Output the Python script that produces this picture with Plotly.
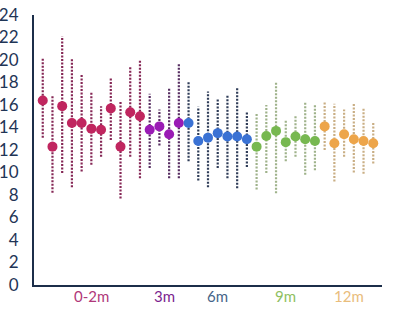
import plotly.graph_objects as go

# ---- data ----
groups = ["0-2m", "3m", "6m", "9m", "12m"]
group_sizes = [11, 4, 7, 7, 6]
means = [16.4, 12.3, 15.9, 14.4, 14.4, 13.9, 13.8, 15.7, 12.3, 15.35, 15.0,
         13.8, 14.1, 13.4, 14.4,
         14.4, 12.8, 13.1, 13.5, 13.2, 13.2, 12.95,
         12.3, 13.25, 13.7, 12.7, 13.2, 12.95, 12.8,
         14.1, 12.6, 13.4, 12.95, 12.8, 12.6]
upper = [20.15, 16.9, 22.1, 20.15, 18.8, 17.2, 15.9, 18.5, 16.4, 19.4, 20.0,
         17.0, 15.6, 17.5, 19.7,
         18.1, 15.85, 17.2, 16.5, 16.9, 17.6, 15.4,
         15.3, 16.0, 18.1, 14.7, 15.1, 16.3, 16.1,
         16.3, 16.1, 15.6, 16.1, 15.7, 14.5]
lower = [13.1, 8.2, 9.95, 8.7, 10.1, 10.7, 11.4, 12.9, 7.7, 11.4, 9.5,
         10.4, 12.4, 9.5, 9.5,
         11.0, 9.3, 8.7, 10.4, 9.5, 8.6, 10.5,
         8.5, 9.95, 8.15, 11.0, 11.4, 9.8, 10.2,
         12.0, 9.2, 11.4, 10.0, 9.9, 10.8]
yticks = list(range(0, 25, 2))

point_colors = ["#c0265f", "#9a1bb5", "#3a72d4", "#77b850", "#eda54a"]
bar_colors = ["#852755", "#552c60", "#2f3d58", "#9fb28a", "#c9ae84"]
label_colors = ["#b0387a", "#7c1f8f", "#456489", "#8fbf62", "#e9bd7c"]

fig = go.Figure()
start = 0
for g, n in enumerate(group_sizes):
    idx = range(start, start + n)
    xs = [i + 1 for i in idx]
    bx, by = [], []
    for i in idx:
        bx += [i + 1, i + 1, None]
        by += [lower[i], upper[i], None]
    fig.add_trace(go.Scatter(x=bx, y=by, mode="lines",
                             line=dict(color=bar_colors[g], width=2.2, dash="2px,1.5px"),
                             hoverinfo="skip", showlegend=False))
    fig.add_trace(go.Scatter(x=xs, y=[means[i] for i in idx], mode="markers",
                             marker=dict(color=point_colors[g], size=10, line=dict(width=0)),
                             showlegend=False))
    center = (xs[0] + xs[-1]) / 2
    fig.add_annotation(x=center, y=-0.041, xref="x", yref="paper",
                       text=groups[g], showarrow=False, yanchor="middle",
                       font=dict(family="Lato", size=15, color=label_colors[g]))
    start += n

fig.update_layout(
    width=398, height=315,
    margin=dict(l=34, r=16, t=15, b=30, autoexpand=False),
    paper_bgcolor="white", plot_bgcolor="white",
    xaxis=dict(range=[0.1, 35.9], showgrid=False, zeroline=False, showticklabels=False,
               showline=True, linecolor="#1c2e4a", linewidth=2, ticks="", automargin=False),
    yaxis=dict(range=[0, 24], tickvals=yticks, showgrid=False, zeroline=False,
               showline=True, linecolor="#1c2e4a", linewidth=2, ticks="", automargin=False,
               tickfont=dict(family="Lato", size=17, color="#1f3556"), ticklabelstandoff=10),
)
fig.write_html("out.html")
